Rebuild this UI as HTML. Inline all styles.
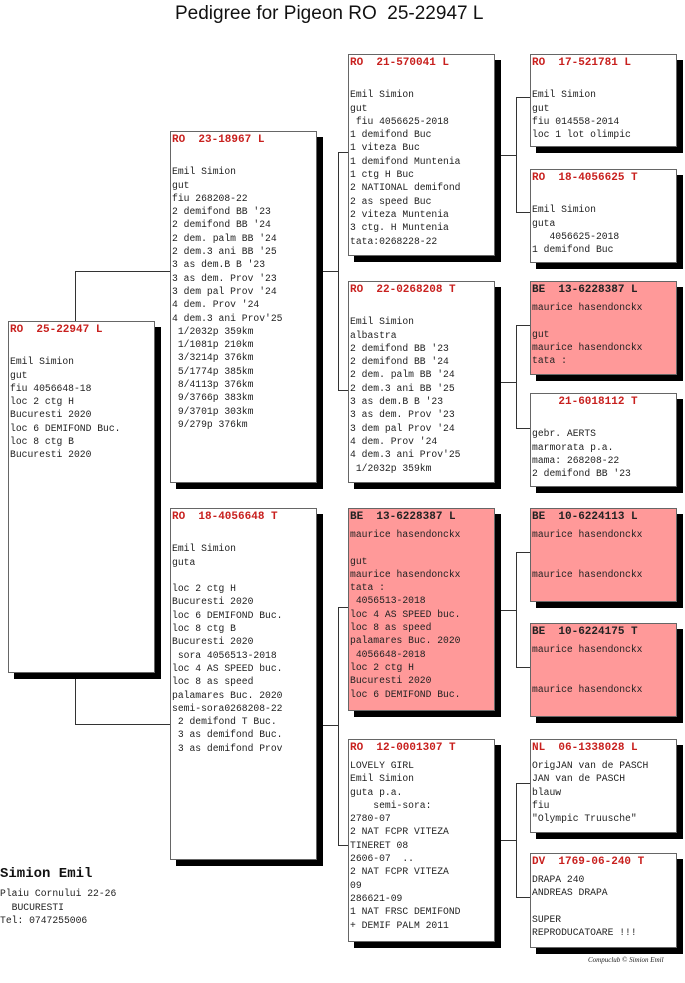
<!DOCTYPE html>
<html><head><meta charset="utf-8"><style>
body{margin:0;width:685px;height:983px;background:#fff;position:relative;overflow:hidden;font-family:"Liberation Mono",monospace;}
.b{position:absolute;border:1px solid #666;background:#fff;box-shadow:6px 6px 0 #000;box-sizing:border-box;font-size:9.7px;line-height:13.3px;color:#222;white-space:pre;padding-left:1px;overflow:hidden}
.p{background:#ff9999}
.h{color:#c8201e;font-weight:bold;font-size:11px;line-height:16px;height:20px}
.p .h{color:#222;height:16px;line-height:16px;margin-bottom:3px}
.p2 .h{color:#c8201e}
.l{position:absolute;background:#333}
.t{position:absolute;white-space:pre}
</style></head><body>
<div class="t" style="left:175px;top:3px;font-family:'Liberation Sans',sans-serif;font-size:19px;color:#111">Pedigree for Pigeon RO  25-22947 L</div>

<!-- connectors -->
<div class="l" style="left:75px;top:271px;width:1px;height:50px"></div>
<div class="l" style="left:75px;top:271px;width:95px;height:1px"></div>
<div class="l" style="left:75px;top:673px;width:1px;height:52px"></div>
<div class="l" style="left:75px;top:724px;width:95px;height:1px"></div>

<div class="l" style="left:322px;top:271px;width:16px;height:1px"></div>
<div class="l" style="left:338px;top:152px;width:1px;height:238px"></div>
<div class="l" style="left:338px;top:152px;width:10px;height:1px"></div>
<div class="l" style="left:338px;top:390px;width:10px;height:1px"></div>
<div class="l" style="left:322px;top:725px;width:16px;height:1px"></div>
<div class="l" style="left:338px;top:607px;width:1px;height:238px"></div>
<div class="l" style="left:338px;top:607px;width:10px;height:1px"></div>
<div class="l" style="left:338px;top:845px;width:10px;height:1px"></div>

<div class="l" style="left:500px;top:155px;width:16px;height:1px"></div>
<div class="l" style="left:516px;top:97px;width:1px;height:115px"></div>
<div class="l" style="left:516px;top:97px;width:14px;height:1px"></div>
<div class="l" style="left:516px;top:212px;width:14px;height:1px"></div>
<div class="l" style="left:500px;top:382px;width:16px;height:1px"></div>
<div class="l" style="left:516px;top:325px;width:1px;height:103px"></div>
<div class="l" style="left:516px;top:325px;width:14px;height:1px"></div>
<div class="l" style="left:516px;top:428px;width:14px;height:1px"></div>
<div class="l" style="left:500px;top:610px;width:16px;height:1px"></div>
<div class="l" style="left:516px;top:552px;width:1px;height:115px"></div>
<div class="l" style="left:516px;top:552px;width:14px;height:1px"></div>
<div class="l" style="left:516px;top:667px;width:14px;height:1px"></div>
<div class="l" style="left:500px;top:840px;width:16px;height:1px"></div>
<div class="l" style="left:516px;top:783px;width:1px;height:114px"></div>
<div class="l" style="left:516px;top:783px;width:14px;height:1px"></div>
<div class="l" style="left:516px;top:897px;width:14px;height:1px"></div>

<!-- gen1 -->
<div class="b" style="left:8px;top:321px;width:147px;height:352px"><div class="h">RO  25-22947 L</div>
Emil Simion
gut
fiu 4056648-18
loc 2 ctg H
Bucuresti 2020
loc 6 DEMIFOND Buc.
loc 8 ctg B
Bucuresti 2020</div>

<!-- gen2 -->
<div class="b" style="left:170px;top:131px;width:147px;height:352px"><div class="h">RO  23-18967 L</div>
Emil Simion
gut
fiu 268208-22
2 demifond BB '23
2 demifond BB '24
2 dem. palm BB '24
2 dem.3 ani BB '25
3 as dem.B B '23
3 as dem. Prov '23
3 dem pal Prov '24
4 dem. Prov '24
4 dem.3 ani Prov'25
 1/2032p 359km
 1/1081p 210km
 3/3214p 376km
 5/1774p 385km
 8/4113p 376km
 9/3766p 383km
 9/3701p 303km
 9/279p 376km</div>
<div class="b" style="left:170px;top:508px;width:147px;height:352px"><div class="h">RO  18-4056648 T</div>
Emil Simion
guta

loc 2 ctg H
Bucuresti 2020
loc 6 DEMIFOND Buc.
loc 8 ctg B
Bucuresti 2020
 sora 4056513-2018
loc 4 AS SPEED buc.
loc 8 as speed
palamares Buc. 2020
semi-sora0268208-22
 2 demifond T Buc.
 3 as demifond Buc.
 3 as demifond Prov</div>

<!-- gen3 -->
<div class="b" style="left:348px;top:54px;width:147px;height:202px"><div class="h">RO  21-570041 L</div>
Emil Simion
gut
 fiu 4056625-2018
1 demifond Buc
1 viteza Buc
1 demifond Muntenia
1 ctg H Buc
2 NATIONAL demifond
2 as speed Buc
2 viteza Muntenia
3 ctg. H Muntenia
tata:0268228-22</div>
<div class="b" style="left:348px;top:281px;width:147px;height:202px"><div class="h">RO  22-0268208 T</div>
Emil Simion
albastra
2 demifond BB '23
2 demifond BB '24
2 dem. palm BB '24
2 dem.3 ani BB '25
3 as dem.B B '23
3 as dem. Prov '23
3 dem pal Prov '24
4 dem. Prov '24
4 dem.3 ani Prov'25
 1/2032p 359km</div>
<div class="b p" style="left:348px;top:508px;width:147px;height:203px"><div class="h">BE  13-6228387 L</div>maurice hasendonckx

gut
maurice hasendonckx
tata :
 4056513-2018
loc 4 AS SPEED buc.
loc 8 as speed
palamares Buc. 2020
 4056648-2018
loc 2 ctg H
Bucuresti 2020
loc 6 DEMIFOND Buc.</div>
<div class="b p p2" style="left:348px;top:739px;width:147px;height:203px;background:#fff"><div class="h">RO  12-0001307 T</div>LOVELY GIRL
Emil Simion
guta p.a.
    semi-sora:
2780-07
2 NAT FCPR VITEZA
TINERET 08
2606-07  ..
2 NAT FCPR VITEZA
09
286621-09
1 NAT FRSC DEMIFOND
+ DEMIF PALM 2011</div>

<!-- gen4 -->
<div class="b" style="left:530px;top:54px;width:147px;height:93px"><div class="h">RO  17-521781 L</div>
Emil Simion
gut
fiu 014558-2014
loc 1 lot olimpic</div>
<div class="b" style="left:530px;top:169px;width:147px;height:94px"><div class="h">RO  18-4056625 T</div>
Emil Simion
guta
   4056625-2018
1 demifond Buc</div>
<div class="b p" style="left:530px;top:281px;width:147px;height:94px"><div class="h">BE  13-6228387 L</div>maurice hasendonckx

gut
maurice hasendonckx
tata :</div>
<div class="b" style="left:530px;top:393px;width:147px;height:94px"><div class="h">    21-6018112 T</div>
gebr. AERTS
marmorata p.a.
mama: 268208-22
2 demifond BB '23</div>
<div class="b p" style="left:530px;top:508px;width:147px;height:94px"><div class="h">BE  10-6224113 L</div>maurice hasendonckx


maurice hasendonckx</div>
<div class="b p" style="left:530px;top:623px;width:147px;height:94px"><div class="h">BE  10-6224175 T</div>maurice hasendonckx


maurice hasendonckx</div>
<div class="b p p2" style="left:530px;top:739px;width:147px;height:94px;background:#fff"><div class="h">NL  06-1338028 L</div>OrigJAN van de PASCH
JAN van de PASCH
blauw
fiu
"Olympic Truusche"</div>
<div class="b p p2" style="left:530px;top:853px;width:147px;height:95px;background:#fff"><div class="h">DV  1769-06-240 T</div>DRAPA 240
ANDREAS DRAPA

SUPER
REPRODUCATOARE !!!</div>

<div class="t" style="left:0;top:866px;font-size:14px;font-weight:bold;color:#111">Simion Emil</div>
<div class="t" style="left:0;top:887px;font-size:9.7px;line-height:13.5px;color:#222">Plaiu Cornului 22-26
  BUCURESTI
Tel: 0747255006</div>
<div class="t" style="left:588px;top:956px;font-family:'Liberation Serif',serif;font-style:italic;font-size:7px;color:#222">Compuclub © Simion Emil</div>
</body></html>
